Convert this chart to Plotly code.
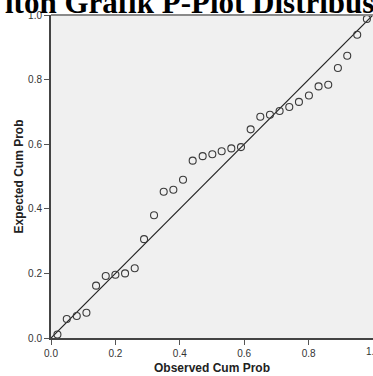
import plotly.graph_objects as go

observed = [0.020, 0.049, 0.080, 0.110, 0.140, 0.170, 0.200, 0.230, 0.260, 0.289,
            0.320, 0.350, 0.380, 0.410, 0.440, 0.471, 0.501, 0.530, 0.560, 0.590,
            0.620, 0.650, 0.680, 0.710, 0.740, 0.770, 0.801, 0.831, 0.861, 0.891,
            0.920, 0.951, 0.981]
expected = [0.011, 0.059, 0.068, 0.078, 0.162, 0.192, 0.196, 0.200, 0.216, 0.306,
            0.380, 0.453, 0.459, 0.490, 0.549, 0.563, 0.569, 0.578, 0.587, 0.591,
            0.646, 0.685, 0.691, 0.703, 0.715, 0.731, 0.751, 0.779, 0.784, 0.836,
            0.874, 0.939, 0.988]
ref_line = [0.0, 1.0]
tick_vals = [0.0, 0.2, 0.4, 0.6, 0.8, 1.0]
tick_text = ["0.0", "0.2", "0.4", "0.6", "0.8", "1.0"]
title_text = "lton Grafik P-Plot Distribusi Normal"

tick_font = dict(family="Liberation Sans, Arial", size=10, color="#333333")

fig = go.Figure()
fig.add_trace(go.Scatter(x=ref_line, y=ref_line, mode="lines",
                         line=dict(color="#222222", width=1.2),
                         hoverinfo="skip", showlegend=False, cliponaxis=True))
fig.add_trace(go.Scatter(x=observed, y=expected, mode="markers",
                         marker=dict(symbol="circle-open", size=7, color="#3a3a3a",
                                     line=dict(width=1.1)),
                         showlegend=False, cliponaxis=False))

axis_common = dict(range=[0, 1], tickvals=tick_vals, ticktext=tick_text,
                   ticks="outside", ticklen=5, tickwidth=1, tickcolor="#555555",
                   showgrid=False, zeroline=False, showline=True,
                   linecolor="#444444", linewidth=2,
                   tickfont=tick_font, automargin=False, fixedrange=True)

fig.update_layout(
    width=373, height=376,
    margin=dict(l=51, r=0, t=15, b=38),
    paper_bgcolor="white", plot_bgcolor="#F0F0F0",
    xaxis=dict(**axis_common),
    yaxis=dict(**axis_common),
    shapes=[dict(type="line", xref="paper", yref="paper", x0=0, x1=1, y0=1, y1=1,
                 line=dict(color="#8a8a8a", width=2))],
    annotations=[
        dict(text="<b>" + title_text + "</b>", xref="paper", yref="paper", x=-0.150, y=1.0,
             xanchor="left", yanchor="bottom", yshift=-7, showarrow=False,
             font=dict(family="Liberation Serif, Times New Roman", size=31, color="black")),
        dict(text="<b>Expected Cum Prob</b>", xref="paper", yref="paper",
             x=0, y=0.5, xshift=-33, textangle=-90, showarrow=False,
             xanchor="center", yanchor="middle",
             font=dict(family="Liberation Sans, Arial", size=12, color="#222222")),
        dict(text="<b>Observed Cum Prob</b>", xref="paper", yref="paper",
             x=0.5, y=0, yshift=-30, showarrow=False,
             xanchor="center", yanchor="middle",
             font=dict(family="Liberation Sans, Arial", size=12, color="#222222")),
        dict(text=tick_text[-1], xref="x", yref="paper", x=tick_vals[-1], y=0,
             xanchor="center", yanchor="top", yshift=-6, showarrow=False,
             font=tick_font),
    ],
)

fig.write_html("out.html", config={"displayModeBar": False})
with open("out.html", "r", encoding="utf-8") as f:
    html = f.read()
html = html.replace("<body>", '<body style="margin:0;padding:0;overflow:hidden">', 1)
with open("out.html", "w", encoding="utf-8") as f:
    f.write(html)
